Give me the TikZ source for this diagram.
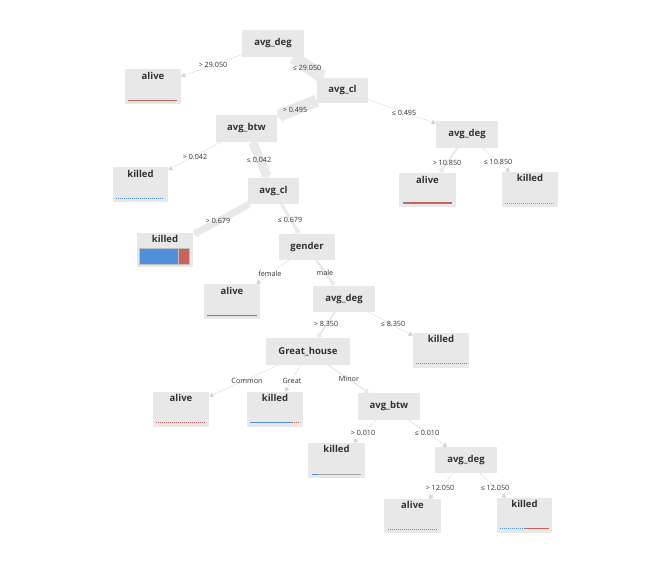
\documentclass[tikz,border=0pt]{standalone}
\usepackage{fontspec}
\setmainfont{Open Sans}
\usetikzlibrary{arrows.meta,backgrounds}
\definecolor{boxfill}{HTML}{E8E8E8}
\definecolor{edgecol}{HTML}{E9E9E9}
\definecolor{thinedge}{HTML}{D4D4D4}
\definecolor{barblue}{HTML}{4F8FDB}
\definecolor{barred}{HTML}{C9625A}
\definecolor{bargray}{HTML}{A8A8A8}
\tikzset{
  dec/.style={rectangle, fill=boxfill, inner sep=0pt, minimum width=62pt, minimum height=27pt, font=\fontsize{9.5}{11}\selectfont\bfseries, text=black!80},
  leaf/.style={rectangle, fill=boxfill, inner sep=0pt, minimum width=56pt, minimum height=35pt},
  leaftext/.style={inner sep=0pt, font=\fontsize{9.5}{11}\selectfont\bfseries, text=black!80},
  lbl/.style={inner sep=0pt, font=\fontsize{7.2}{8}\selectfont, text=black!80},
  thick edge/.style={draw=edgecol, line width=#1, -{Triangle[length=4pt 0, width=4pt 1]}},
  thin edge/.style={draw=thinedge, line width=0.8pt, densely dotted, -{Triangle[length=4pt, width=5pt]}},
}
\begin{document}
\begin{tikzpicture}[x=1pt,y=-1pt]
\useasboundingbox (0,0) rectangle (659,562);
% decision nodes
\node[dec] (root) at (273,43.5) {avg\_deg};
\node[dec, minimum width=51pt, minimum height=25pt] (cl1) at (342.5,90.5) {avg\_cl};
\node[dec, minimum width=61pt] (btw1) at (246.5,128.5) {avg\_btw};
\node[dec, minimum width=51pt, minimum height=26pt] (cl2) at (273.5,191) {avg\_cl};
\node[dec] (deg2) at (467,134.5) {avg\_deg};
\node[dec, minimum width=56pt, minimum height=26pt] (gender) at (307,247) {gender};
\node[dec, minimum height=26pt] (deg3) at (344,299) {avg\_deg};
\node[dec, minimum width=84pt] (gh) at (308,351.5) {Great\_house};
\node[dec] (btw2) at (389,406.5) {avg\_btw};
\node[dec, minimum height=26pt] (deg4) at (466,460) {avg\_deg};
% leaves
\node[leaf] (l1) at (153,86.5) {};
\node[leaftext] (t1) at ([yshift=-7pt]l1.north) {alive};
\node[leaf, minimum width=55pt] (l2) at (140.5,184.5) {};
\node[leaftext] (t2) at ([yshift=-7pt]l2.north) {killed};
\node[leaf, minimum width=57pt, minimum height=34pt] (l3) at (427.5,190) {};
\node[leaftext] (t3) at ([yshift=-7pt]l3.north) {alive};
\node[leaf] (l4) at (530,189.5) {};
\node[leaftext] (t4) at ([yshift=-6pt]l4.north) {killed};
\node[leaf, minimum height=34pt] (l5) at (165,250) {};
\node[leaftext] (t5) at ([yshift=-6pt]l5.north) {killed};
\node[leaf] (l6) at (232,301.5) {};
\node[leaftext] (t6) at ([yshift=-7pt]l6.north) {alive};
\node[leaf] (l7) at (441,350.5) {};
\node[leaftext] (t7) at ([yshift=-6pt]l7.north) {killed};
\node[leaf] (l8) at (181,409.5) {};
\node[leaftext] (t8) at ([yshift=-6pt]l8.north) {alive};
\node[leaf] (l9) at (275,409.5) {};
\node[leaftext] (t9) at ([yshift=-6pt]l9.north) {killed};
\node[leaf, minimum width=57pt] (l10) at (336.5,460.5) {};
\node[leaftext] (t10) at ([yshift=-6pt]l10.north) {killed};
\node[leaf, minimum width=57pt, minimum height=34pt] (l11) at (412.5,516) {};
\node[leaftext] (t11) at ([yshift=-6pt]l11.north) {alive};
\node[leaf, minimum width=55pt] (l12) at (524.5,515.5) {};
\node[leaftext] (t12) at ([yshift=-6pt]l12.north) {killed};
% bars
\draw[barred, line width=1pt] ([xshift=3pt,yshift=4pt]l1.south west) -- ([xshift=-4pt,yshift=4pt]l1.south east);
\draw[barblue, line width=1pt, densely dotted] ([xshift=3pt,yshift=4pt]l2.south west) -- ([xshift=-5pt,yshift=4pt]l2.south east);
\fill[barblue] ([xshift=4pt,yshift=3pt]l3.south west) rectangle ([xshift=7pt,yshift=5.5pt]l3.south west);
\fill[barred] ([xshift=7pt,yshift=3pt]l3.south west) rectangle ([xshift=-4pt,yshift=5.5pt]l3.south east);
\draw[bargray!70!barblue, line width=1pt, densely dotted] ([xshift=3pt,yshift=4pt]l4.south west) -- ([xshift=-4pt,yshift=4pt]l4.south east);
\fill[barblue, draw=black!25, line width=0.4pt] (139,248) rectangle (178,264);
\fill[barred, draw=black!25, line width=0.4pt] (178,248) rectangle (189,264);
\draw[barred, line width=1pt] ([xshift=3pt,yshift=4pt]l6.south west) -- ([xshift=-3pt,yshift=4pt]l6.south east);
\draw[barblue, line width=1pt, densely dotted] ([xshift=3pt,yshift=5pt]l7.south west) -- ([xshift=-3pt,yshift=5pt]l7.south east);
\draw[barred, line width=1pt, densely dotted] ([xshift=3pt,yshift=5pt]l8.south west) -- ([xshift=-4pt,yshift=5pt]l8.south east);
\draw[barblue, line width=1pt] ([xshift=3pt,yshift=5pt]l9.south west) -- ([xshift=-11pt,yshift=5pt]l9.south east);
\draw[barred, line width=1pt, densely dotted] ([xshift=-11pt,yshift=5pt]l9.south east) -- ([xshift=-3pt,yshift=5pt]l9.south east);
\draw[barblue, line width=1pt] ([xshift=4pt,yshift=4pt]l10.south west) -- ([xshift=10pt,yshift=4pt]l10.south west);
\draw[bargray, line width=1pt] ([xshift=10pt,yshift=4pt]l10.south west) -- ([xshift=-4pt,yshift=4pt]l10.south east);
\draw[barred!80!barblue, line width=1pt, densely dotted] ([xshift=4pt,yshift=4pt]l11.south west) -- ([xshift=-4pt,yshift=4pt]l11.south east);
\draw[barblue, line width=1pt, densely dotted] ([xshift=3pt,yshift=5pt]l12.south west) -- ([xshift=28pt,yshift=5pt]l12.south west);
\draw[barred, line width=1pt] ([xshift=28pt,yshift=5pt]l12.south west) -- ([xshift=-3pt,yshift=5pt]l12.south east);
% edges
\begin{pgfonlayer}{background}
\draw[thin edge] (root) -- (l1);
\draw[thick edge=13pt] (root) -- (cl1);
\draw[thick edge=12pt] (cl1) -- (btw1);
\draw[thin edge] (cl1) -- (deg2);
\draw[thin edge] (btw1) -- (l2);
\draw[thick edge=9pt] (btw1) -- (cl2);
\draw[thick edge=2pt] (deg2) -- (l3);
\draw[thin edge] (deg2) -- (l4);
\draw[thick edge=7pt] (cl2) -- (l5);
\draw[thick edge=3pt] (cl2) -- (gender);
\draw[thin edge] (gender) -- (l6);
\draw[thick edge=2.5pt] (gender) -- (deg3);
\draw[thick edge=2pt] (deg3) -- (gh);
\draw[thin edge] (deg3) -- (l7);
\draw[thin edge] (gh) -- (l8);
\draw[thin edge] (gh) -- (l9);
\draw[thick edge=1.5pt] (gh) -- (btw2);
\draw[thin edge] (btw2) -- (l10);
\draw[thin edge] (btw2) -- (deg4);
\draw[thin edge] (deg4) -- (l11);
\draw[thin edge] (deg4) -- (l12);
\end{pgfonlayer}
% labels
\node[lbl] (e1) at (213,65) {> 29.050};
\node[lbl] (e2) at (307,67.5) {≤ 29.050};
\node[lbl] (e3) at (295,109.5) {> 0.495};
\node[lbl] (e4) at (404,113) {≤ 0.495};
\node[lbl] (e5) at (195,157) {> 0.042};
\node[lbl] (e6) at (259,160) {≤ 0.042};
\node[lbl] (e7) at (447,162.5) {> 10.850};
\node[lbl] (e8) at (498,162) {≤ 10.850};
\node[lbl] (e9) at (218,220.5) {> 0.679};
\node[lbl] (e10) at (290,219.5) {≤ 0.679};
\node[lbl] (e11) at (270,274) {female};
\node[lbl] (e12) at (325,272.5) {male};
\node[lbl] (e13) at (326,324) {> 8.350};
\node[lbl] (e14) at (393,324) {≤ 8.350};
\node[lbl] (e15) at (247,380.5) {Common};
\node[lbl] (e16) at (292,380.5) {Great};
\node[lbl] (e17) at (349,379) {Minor};
\node[lbl] (e18) at (363,433) {> 0.010};
\node[lbl] (e19) at (427,433) {≤ 0.010};
\node[lbl] (e20) at (440,488) {> 12.050};
\node[lbl] (e21) at (495,487.5) {≤ 12.050};
\end{tikzpicture}
\end{document}
